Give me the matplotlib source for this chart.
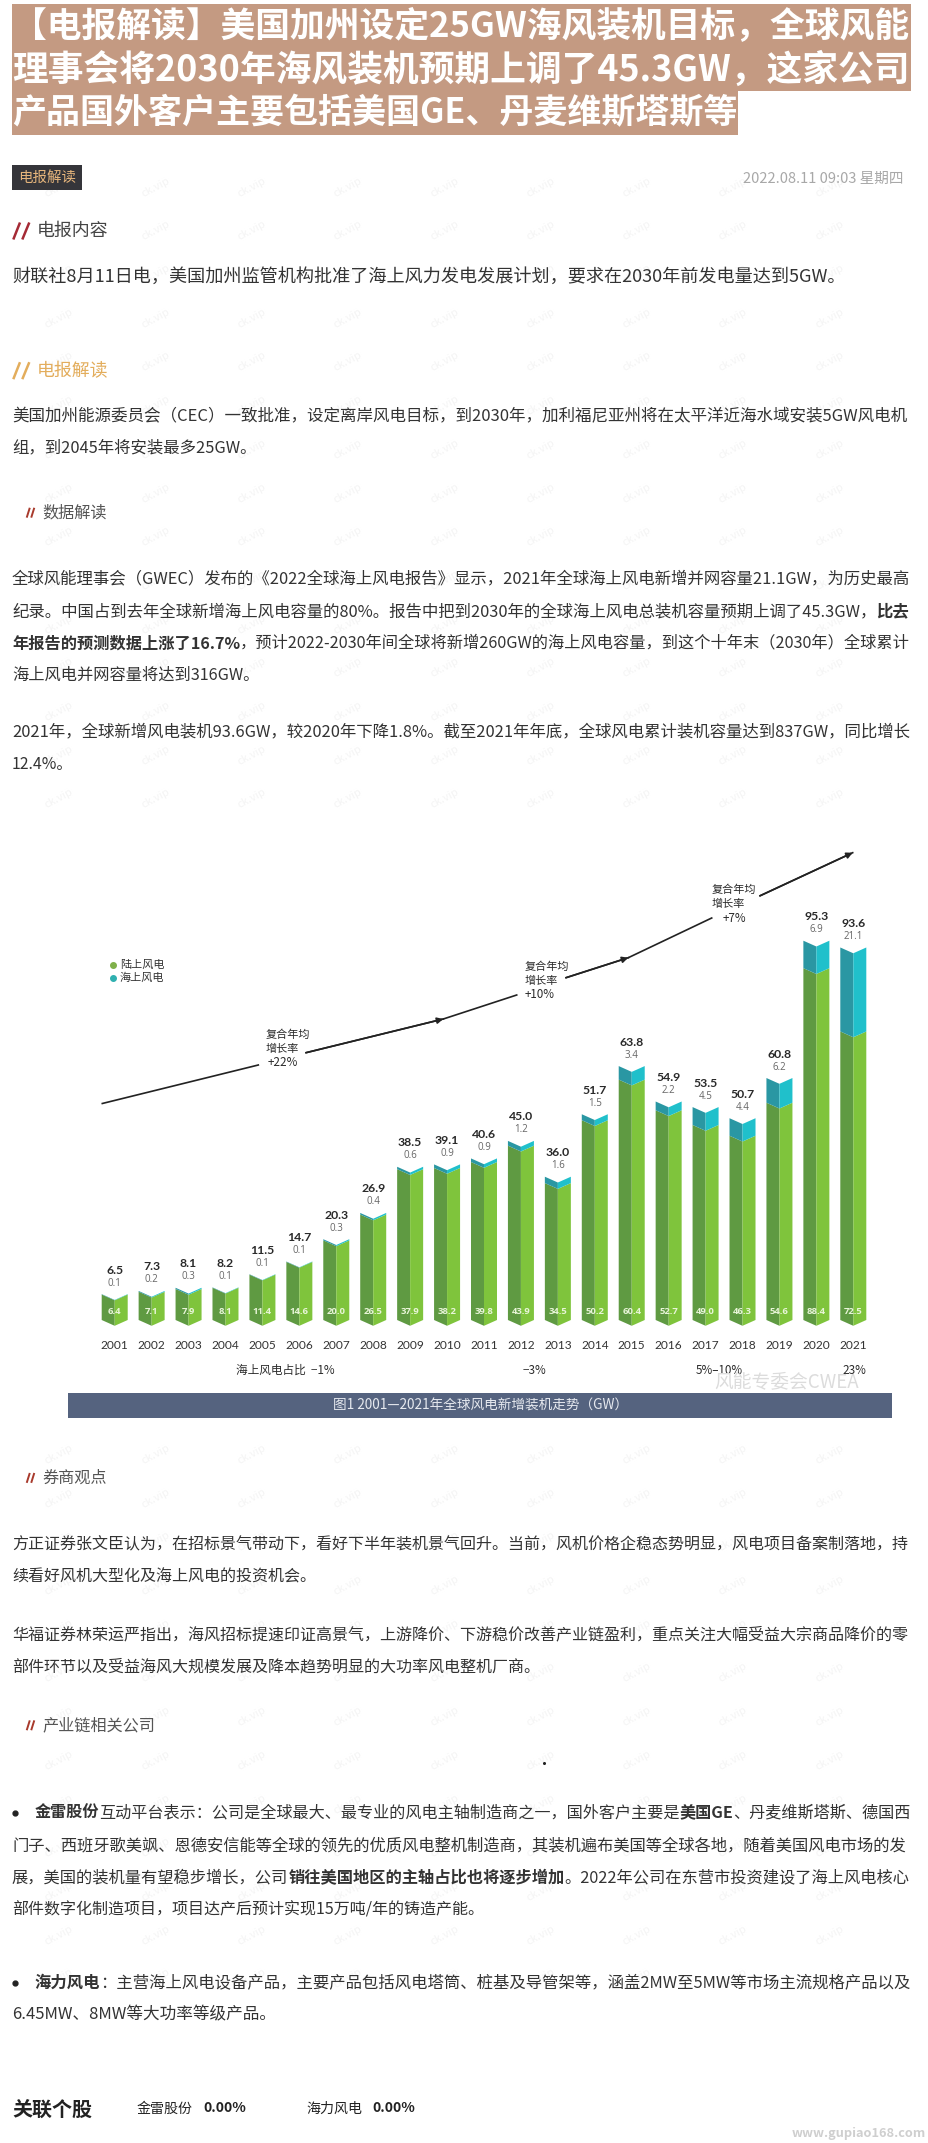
import matplotlib
matplotlib.use('Agg')
import matplotlib.pyplot as plt
from matplotlib.patches import Rectangle

plt.rcParams['font.family'] = ['Noto Sans CJK SC', 'DejaVu Sans']

W, H = 929, 2143

years = list(range(2001, 2022))
totals = [6.5, 7.3, 8.1, 8.2, 11.5, 14.7, 20.3, 26.9, 38.5, 39.1, 40.6, 45.0, 36.0, 51.7, 63.8, 54.9, 53.5, 50.7, 60.8, 95.3, 93.6]
offshore = [0.1, 0.2, 0.3, 0.1, 0.1, 0.1, 0.3, 0.4, 0.6, 0.9, 0.9, 1.2, 1.6, 1.5, 3.4, 2.2, 4.5, 4.4, 6.2, 6.9, 21.1]
onshore = [6.4, 7.1, 7.9, 8.1, 11.4, 14.6, 20.0, 26.5, 37.9, 38.2, 39.8, 43.9, 34.5, 50.2, 60.4, 52.7, 49.0, 46.3, 54.6, 88.4, 72.5]

title_lines = [
    '【电报解读】美国加州设定25GW海风装机目标，全球风能',
    '理事会将2030年海风装机预期上调了45.3GW，这家公司',
    '产品国外客户主要包括美国GE、丹麦维斯塔斯等',
]

# y, x start, x end, runs of (text, bold)
body_lines = [
    (276.7, 12, 848, [('财联社8月11日电，美国加州监管机构批准了海上风力发电发展计划，要求在2030年前发电量达到5GW。', False)]),
    (416.7, 12, 911, [('美国加州能源委员会（CEC）一致批准，设定离岸风电目标，到2030年，加利福尼亚州将在太平洋近海水域安装5GW风电机', False)]),
    (448.3, 12, 257, [('组，到2045年将安装最多25GW。', False)]),
    (579.3, 12, 911, [('全球风能理事会（GWEC）发布的《2022全球海上风电报告》显示，2021年全球海上风电新增并网容量21.1GW，为历史最高', False)]),
    (611.7, 12, 911, [('纪录。中国占到去年全球新增海上风电容量的80%。报告中把到2030年的全球海上风电总装机容量预期上调了45.3GW，', False), ('比去', True)]),
    (643.3, 12, 911, [('年报告的预测数据上涨了16.7%', True), ('，预计2022-2030年间全球将新增260GW的海上风电容量，到这个十年末（2030年）全球累计', False)]),
    (675.7, 12, 260, [('海上风电并网容量将达到316GW。', False)]),
    (732.3, 12, 911, [('2021年，全球新增风电装机93.6GW，较2020年下降1.8%。截至2021年年底，全球风电累计装机容量达到837GW，同比增长', False)]),
    (764.3, 12, 73, [('12.4%。', False)]),
    (1545, 12, 911, [('方正证券张文臣认为，在招标景气带动下，看好下半年装机景气回升。当前，风机价格企稳态势明显，风电项目备案制落地，持', False)]),
    (1577.4, 12, 317, [('续看好风机大型化及海上风电的投资机会。', False)]),
    (1634.7, 12, 911, [('华福证券林荣运严指出，海风招标提速印证高景气，上游降价、下游稳价改善产业链盈利，重点关注大幅受益大宗商品降价的零', False)]),
    (1666.7, 12, 542, [('部件环节以及受益海风大规模发展及降本趋势明显的大功率风电整机厂商。', False)]),
    (1813, 34.5, 911, [('金雷股份', True), ('互动平台表示：公司是全球最大、最专业的风电主轴制造商之一，国外客户主要是', False), ('美国GE', True), ('、丹麦维斯塔斯、德国西', False)]),
    (1845.6, 12, 911, [('门子、西班牙歌美飒、恩德安信能等全球的领先的优质风电整机制造商，其装机遍布美国等全球各地，随着美国风电市场的发', False)]),
    (1878, 12, 911, [('展，美国的装机量有望稳步增长，公司', False), ('销往美国地区的主轴占比也将逐步增加', True), ('。2022年公司在东营市投资建设了海上风电核心', False)]),
    (1910, 12, 485, [('部件数字化制造项目，项目达产后预计实现15万吨/年的铸造产能。', False)]),
    (1982.6, 34.5, 911, [('海力风电', True), ('：主营海上风电设备产品，主要产品包括风电塔筒、桩基及导管架等，涵盖2MW至5MW等市场主流规格产品以及', False)]),
    (2014.6, 12, 277, [('6.45MW、8MW等大功率等级产品。', False)]),
]

sub_heads = [('数据解读', 512.7), ('券商观点', 1477.9), ('产业链相关公司', 1725.3)]
cagr_labels = [('复合年均', '增长率', '+22%', 266, 282.7, 1035),
               ('复合年均', '增长率', '+10%', 525, 540, 967),
               ('复合年均', '增长率', '+7%', 712, 734, 890)]
share_labels = [('海上风电占比  −1%', 285), ('−3%', 534), ('5%–10%', 719), ('23%', 854)]

fig = plt.figure(figsize=(W / 100, H / 100), dpi=100, facecolor='white')
ax = fig.add_axes([0, 0, 1, 1], zorder=0)
ax.set_xlim(0, W)
ax.set_ylim(H, 0)
ax.axis('off')
renderer = fig.canvas.get_renderer()


def fit_runs(y, x0, x1, runs, fs=11.5, color='#333333'):
    # scale the font a little so that the line ends where the original does
    parts = []
    for s, bold in runs:
        parts.append(ax.text(x0, y, s, fontsize=fs, color=color, va='center', ha='left',
                             fontweight='bold' if bold else 'normal', zorder=3))
    total = sum(p.get_window_extent(renderer).width for p in parts)
    k = (x1 - x0) / total
    x = x0
    for p in parts:
        p.set_fontsize(fs * k)
        p.set_x(x)
        x += p.get_window_extent(renderer).width


# faint site watermark
for row in range(42):
    for col in range(9):
        yy = 187 + row * 43.7
        if 800 < yy < 1425 or yy > 2060:
            continue
        ax.text(59 + col * 96.3, yy, 'ck.vip', fontsize=8, color='#f4f4f4', rotation=28,
                ha='center', va='center', style='italic', zorder=1)

# title block
ax.add_patch(Rectangle((12, 4), 899, 87, color='#c49a82', lw=0, zorder=2))
ax.add_patch(Rectangle((12, 91), 726, 44, color='#c49a82', lw=0, zorder=2))
fit_runs(26, 12, 911, [(title_lines[0], True)], fs=25, color='white')
fit_runs(70, 12, 911, [(title_lines[1], True)], fs=25, color='white')
fit_runs(113, 12, 738, [(title_lines[2], True)], fs=25, color='white')

# tag and date
ax.add_patch(Rectangle((12, 165), 70, 25, color='#35353a', lw=0, zorder=2))
fit_runs(177.5, 18, 76, [('电报解读', False)], fs=10.5, color='#e6b57c')
fit_runs(179, 743, 903, [('2022.08.11 09:03 星期四', False)], fs=11, color='#a8a8a8')

# section heads
for y, col, head in [(231, '#a52a35', '电报内容'), (370.7, '#e3ad5c', '电报解读')]:
    ax.plot([13.3, 20], [y + 8.5, y - 8.5], color=col, lw=1.8, solid_capstyle='butt', zorder=3)
    ax.plot([22.3, 29.3], [y + 8.5, y - 8.5], color=col, lw=1.8, solid_capstyle='butt', zorder=3)
    fit_runs(y, 36.5, 108, [(head, False)], fs=13, color=col if col == '#e3ad5c' else '#444444')

for head, y in sub_heads:
    ax.plot([27, 29.5], [y + 4, y - 4], color='#a83a2c', lw=1.4, zorder=3)
    ax.plot([31.5, 34], [y + 4, y - 4], color='#a83a2c', lw=1.4, zorder=3)
    fit_runs(y, 42, 42 + 16.2 * len(head), [(head, False)], fs=11.5, color='#555555')

for y, x0, x1, runs in body_lines:
    fit_runs(y, x0, x1, runs)

ax.plot([15], [1813], 'o', color='#222222', ms=3.5, zorder=3)
ax.plot([15], [1982.6], 'o', color='#222222', ms=3.5, zorder=3)
ax.plot([543.7], [1762.7], 'o', color='#222222', ms=1.2, zorder=3)

# related stocks
fit_runs(2108.8, 12, 92, [('关联个股', True)], fs=14.5, color='#222222')
fit_runs(2108.5, 137, 193, [('金雷股份', False)], fs=10, color='#222222')
fit_runs(2108.5, 203, 246, [('0.00%', True)], fs=10, color='#222222')
fit_runs(2108.5, 306, 362, [('海力风电', False)], fs=10, color='#222222')
fit_runs(2108.5, 372, 415, [('0.00%', True)], fs=10, color='#222222')
fit_runs(2133, 792, 927, [('www.gupiao168.com', True)], fs=10, color='#cfcfcf')

# bars, drawn on their own axes in GW
base_y, top_y, left_x, right_x = 1320, 840, 70, 900
px_per_gw = 3.98
px_per_year = 36.93
chart = fig.add_axes([left_x / W, 1 - base_y / H, (right_x - left_x) / W, (base_y - top_y) / H], zorder=1)
chart.patch.set_alpha(0)
chart.axis('off')
chart.set_xlim(2001 + (left_x - 114.7) / px_per_year, 2001 + (right_x - 114.7) / px_per_year)
chart.set_ylim(0, (base_y - top_y) / px_per_gw)
half = 13 / px_per_year
notch = 5.8 / px_per_gw


def faces(x, lo, hi, dark, light):
    chart.fill([x - half, x, x, x - half], [lo, lo - notch, hi - notch, hi], color=dark, lw=0, clip_on=False)
    chart.fill([x, x + half, x + half, x], [lo - notch, lo, hi, hi - notch], color=light, lw=0, clip_on=False)


for yr, on, off, tot in zip(years, onshore, offshore, totals):
    faces(yr, 0, tot - off, '#5f9a42', '#7fc43c')
    faces(yr, tot - off, tot, '#2a97a3', '#20c0cb')
    chart.text(yr, tot + 24 / px_per_gw, f'{tot:.1f}', fontsize=8.8, family='Lato', fontweight='bold', color='#2a2a2a', ha='center', va='center')
    chart.text(yr, tot + 11 / px_per_gw, f'{off:.1f}', fontsize=7, family='Open Sans', color='#666666', ha='center', va='center')
    chart.text(yr, 9 / px_per_gw, f'{on:.1f}', fontsize=6.8, family='Open Sans', fontweight='bold', color='#e8f5d8', ha='center', va='center')
    chart.text(yr, -25.8 / px_per_gw, str(yr), fontsize=8.6, family='Lato', color='#333333', ha='center', va='center')

# growth line, in three arrows with gaps for the labels
seg_x = [[102.3, 258.3], [306, 443.3], [443.3, 516.7], [566, 628.3], [628.3, 711.7], [760, 852.7]]
seg_y = [[1103.5, 1065], [1052.7, 1019], [1019, 995], [977.7, 957.7], [957.7, 918], [895.8, 852.7]]
for sx, sy in zip(seg_x, seg_y):
    ax.plot(sx, sy, color='#222222', lw=1.2, zorder=3)
for i in [1, 3, 5]:
    ax.annotate('', xy=(seg_x[i][1], seg_y[i][1]), xytext=(seg_x[i][0], seg_y[i][0]), zorder=3,
                arrowprops=dict(arrowstyle='-|>', color='#222222', lw=1.2, mutation_scale=9, shrinkA=0, shrinkB=0))

for l1, l2, l3, x, x3, y in cagr_labels:
    ax.text(x, y, l1, fontsize=8, color='#2a2a2a', va='center', zorder=3)
    ax.text(x, y + 14, l2, fontsize=8, color='#2a2a2a', va='center', zorder=3)
    ax.text(x3, y + 28, l3, fontsize=8.4, color='#2a2a2a', va='center', ha='center', zorder=3)

# legend
ax.plot([113.3], [964.6], 'o', color='#7fb04a', ms=4, zorder=3)
ax.plot([113.3], [977.7], 'o', color='#2fb0b0', ms=4, zorder=3)
ax.text(120, 964.6, '陆上风电', fontsize=8, color='#333333', va='center', zorder=3)
ax.text(120, 977.7, '海上风电', fontsize=8, color='#333333', va='center', zorder=3)

for s, x in share_labels:
    ax.text(x, 1370, s, fontsize=8.4, color='#2a2a2a', ha='center', va='center', zorder=3)
ax.text(787, 1381.5, '风能专委会CWEA', fontsize=13.5, color='#dcdcdc', ha='center', va='center', zorder=3)

# caption bar
ax.add_patch(Rectangle((68.3, 1393), 823.4, 25, color='#55637f', lw=0, zorder=2))
fit_runs(1405.5, 333, 630, [('图1 2001—2021年全球风电新增装机走势（GW）', False)], fs=10.5, color='#e6e9ef')

fig.savefig('out.png', dpi=100)
